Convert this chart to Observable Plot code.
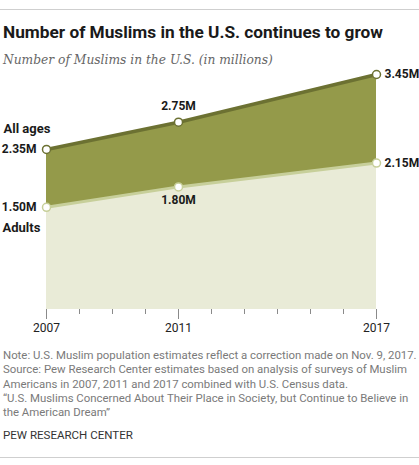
<!DOCTYPE html>
<html>
<head>
<meta charset="utf-8">
<script src="https://cdn.jsdelivr.net/npm/d3@7"></script>
<script src="https://cdn.jsdelivr.net/npm/@observablehq/plot@0.6"></script>
<style>
  html, body { margin: 0; padding: 0; background: #fff; }
  #wrap { position: relative; width: 419px; height: 465px; overflow: hidden; font-family: Roboto, "Liberation Sans", sans-serif; }
  .rule { position: absolute; left: 0; width: 419px; height: 1px; background: #cfcfcf; }
  .fit { position: absolute; left: 3px; white-space: nowrap; }
  #title { top: 22px; line-height: 20px; font-weight: bold; color: #1a1a1a; font-size: 18px; }
  #subtitle { top: 51px; line-height: 18px; font-family: "DejaVu Serif", "Liberation Serif", serif; font-style: italic; color: #666; font-size: 14px; }
  #chart { position: absolute; left: 0; top: 66px; }
  #footer { position: absolute; left: 3px; top: 348px; color: #7a7a7a; font-size: 12px; line-height: 14.3px; white-space: nowrap; }
  #pew { top: 427px; line-height: 16px; color: #333; font-size: 13px; }
</style>
</head>
<body>
<div id="wrap">
  <div class="rule" style="top:9px"></div>
  <div id="title" class="fit" data-w="380"></div>
  <div id="subtitle" class="fit" data-w="270"></div>
  <div id="chart"></div>
  <div id="footer"></div>
  <div id="pew" class="fit" data-w="130"></div>
  <div class="rule" style="top:457px"></div>
</div>
<script>
// ---- data ----
const titleText = "Number of Muslims in the U.S. continues to grow";
const subtitleText = "Number of Muslims in the U.S. (in millions)";
const years = [2007, 2011, 2017];
const allAges = [2.35, 2.75, 3.45];
const adults = [1.50, 1.80, 2.15];
const seriesNames = ["All ages", "Adults"];
const allTickYears = [2007, 2008, 2009, 2010, 2011, 2012, 2013, 2014, 2015, 2016, 2017];
const labeledYears = [2007, 2011, 2017];
const footerLines = [
  "Note: U.S. Muslim population estimates reflect a correction made on Nov. 9, 2017.",
  "Source: Pew Research Center estimates based on analysis of surveys of Muslim",
  "Americans in 2007, 2011 and 2017 combined with U.S. Census data.",
  "\u201cU.S. Muslims Concerned About Their Place in Society, but Continue to Believe in",
  "the American Dream\u201d"
];
const sourceName = "PEW RESEARCH CENTER";

// ---- table ----
const rows = years.map((y, i) => ({year: y, all: allAges[i], adults: adults[i]}));
const fmt = v => v.toFixed(2) + "M";

const darkArea = "#949a4a", darkLine = "#6c7132";
const lightArea = "#e9ebd7", lightLine = "#c7cf9a";

document.getElementById("title").textContent = titleText;
document.getElementById("subtitle").textContent = subtitleText;
document.getElementById("pew").textContent = sourceName;
const footer = document.getElementById("footer");
footerLines.forEach(t => { const d = document.createElement("div"); d.textContent = t; footer.appendChild(d); });

const first = rows[0], mid = rows[1], last = rows[rows.length - 1];

const plot = Plot.plot({
  width: 419,
  height: 272,
  marginTop: 8,
  marginBottom: 29,
  marginLeft: 46,
  marginRight: 43,
  style: {fontFamily: "Roboto, 'Liberation Sans', sans-serif", background: "transparent", overflow: "visible"},
  x: {domain: [2007, 2017], axis: null, label: null},
  y: {domain: [0, 3.45], axis: null, label: null},
  marks: [
    Plot.areaY(rows, {x: "year", y1: 0, y2: "adults", fill: lightArea}),
    Plot.areaY(rows, {x: "year", y1: "adults", y2: "all", fill: darkArea}),
    Plot.lineY(rows, {x: "year", y: "adults", stroke: lightLine, strokeWidth: 3}),
    Plot.lineY(rows, {x: "year", y: "all", stroke: darkLine, strokeWidth: 3.5}),
    Plot.dot(rows, {x: "year", y: "adults", r: 4, fill: "white", stroke: lightLine, strokeWidth: 1.5}),
    Plot.dot(rows, {x: "year", y: "all", r: 4, fill: "white", stroke: darkLine, strokeWidth: 1.5}),
    Plot.axisX(allTickYears, {tickSize: 5, tickFormat: () => "", label: null, stroke: "#8a8a8a"}),
    Plot.axisX(labeledYears, {tickSize: 10, tickPadding: 4, tickFormat: d => String(d), label: null, stroke: "#8a8a8a", fill: "#222", fontSize: 12}),
    // value labels
    Plot.text([first], {x: "year", y: "all", text: d => fmt(d.all), textAnchor: "end", dx: -10, fontWeight: "bold", fontSize: 12, fill: "#1a1a1a"}),
    Plot.text([first], {x: "year", y: "adults", text: d => fmt(d.adults), textAnchor: "end", dx: -10, fontWeight: "bold", fontSize: 12, fill: "#1a1a1a"}),
    Plot.text([mid], {x: "year", y: "all", text: d => fmt(d.all), dy: -16, fontWeight: "bold", fontSize: 12, fill: "#1a1a1a"}),
    Plot.text([mid], {x: "year", y: "adults", text: d => fmt(d.adults), dy: 13, fontWeight: "bold", fontSize: 12, fill: "#1a1a1a"}),
    Plot.text([last], {x: "year", y: "all", text: d => fmt(d.all), textAnchor: "start", dx: 8, fontWeight: "bold", fontSize: 12, fill: "#1a1a1a"}),
    Plot.text([last], {x: "year", y: "adults", text: d => fmt(d.adults), textAnchor: "start", dx: 8, fontWeight: "bold", fontSize: 12, fill: "#1a1a1a"}),
    // series labels
    Plot.text([first], {x: "year", y: "all", text: () => seriesNames[0], textAnchor: "start", dx: -43, dy: -21, fontWeight: "bold", fontSize: 13, fill: "#1a1a1a"}),
    Plot.text([first], {x: "year", y: "adults", text: () => seriesNames[1], textAnchor: "start", dx: -44, dy: 21, fontWeight: "bold", fontSize: 13, fill: "#1a1a1a"})
  ]
});
document.getElementById("chart").appendChild(plot);

// fit text widths
function fit(el, target) {
  el.style.display = "inline-block";
  const w = el.getBoundingClientRect().width;
  const fs = parseFloat(getComputedStyle(el).fontSize);
  if (w > 0) el.style.fontSize = (fs * target / w) + "px";
}
document.querySelectorAll(".fit").forEach(el => fit(el, +el.dataset.w));
(function () {
  const d = footer.firstChild;
  d.style.display = "inline-block";
  const w = d.getBoundingClientRect().width;
  d.style.display = "";
  footer.style.fontSize = (12 * 414 / w) + "px";
})();
</script>
</body>
</html>
